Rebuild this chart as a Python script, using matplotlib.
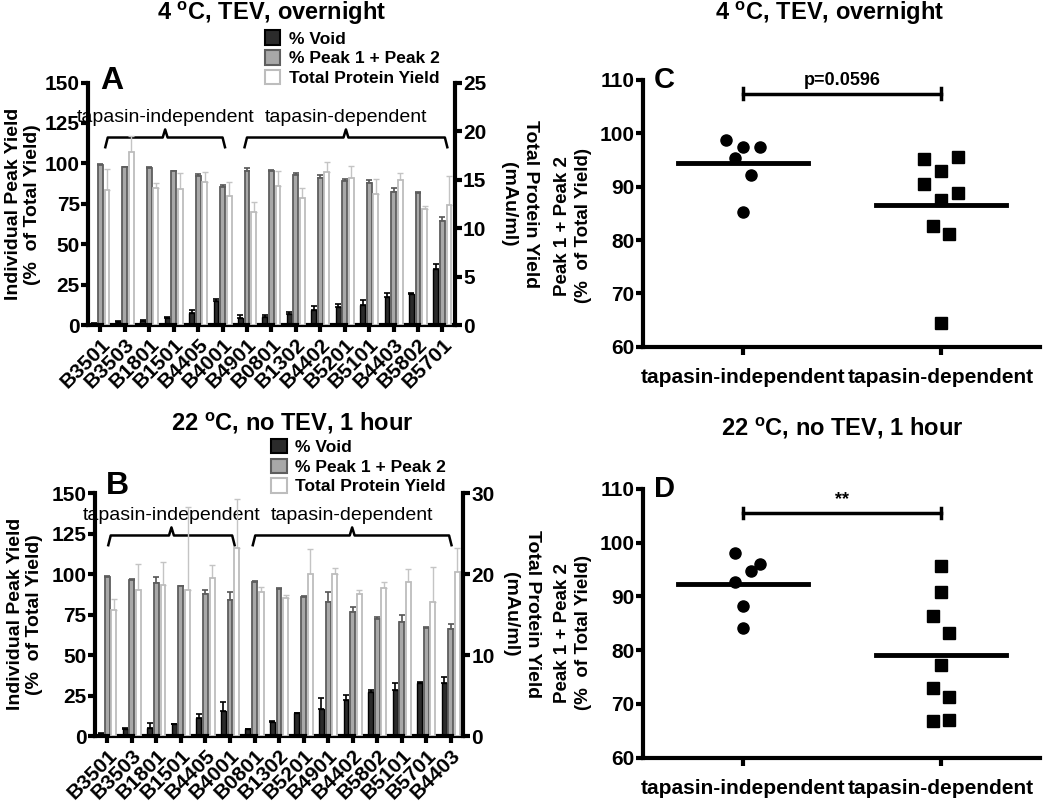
import numpy as np
import matplotlib.pyplot as plt
from matplotlib.patches import Patch

plt.rcParams['font.family'] = ['Liberation Sans', 'DejaVu Sans']
plt.rcParams['font.weight'] = 'bold'
plt.rcParams['mathtext.fontset'] = 'custom'
plt.rcParams['mathtext.rm'] = 'Liberation Sans'
plt.rcParams['mathtext.bf'] = 'Liberation Sans:bold'

# ---- panel A : 4 C, TEV, overnight ----
alleles_a = ['B3501', 'B3503', 'B1801', 'B1501', 'B4405', 'B4001', 'B4901', 'B0801',
             'B1302', 'B4402', 'B5201', 'B5101', 'B4403', 'B5802', 'B5701']
void_a = [1.0, 2.0, 2.5, 4.7, 7.6, 14.9, 4.5, 5.2, 6.8, 9.7, 11.3, 12.4, 17.5, 19.0, 35.0]
void_a_err = [0.5, 0.5, 0.8, 0.5, 2.0, 1.5, 2.0, 0.8, 1.5, 2.3, 2.0, 3.0, 2.5, 1.0, 3.0]
peak_a = [99.0, 97.6, 97.4, 95.3, 92.2, 85.6, 95.5, 95.3, 92.8, 90.8, 89.1, 87.7, 82.5, 81.5, 64.6]
peak_a_err = [0.5, 0.3, 0.5, 0.3, 1.5, 1.0, 1.5, 0.5, 1.0, 1.8, 1.0, 2.0, 2.0, 0.8, 2.0]
total_a = [13.9, 17.8, 14.1, 14.0, 14.8, 13.3, 11.7, 14.3, 13.1, 15.8, 15.2, 13.5, 15.0, 12.0, 12.4]
total_a_err = [2.2, 1.7, 0.5, 1.7, 1.0, 1.4, 1.0, 1.6, 1.0, 1.0, 1.2, 1.6, 0.7, 0.3, 3.0]

# ---- panel B : 22 C, no TEV, 1 hour ----
alleles_b = ['B3501', 'B3503', 'B1801', 'B1501', 'B4405', 'B4001', 'B0801', 'B1302',
             'B5201', 'B4901', 'B4402', 'B5802', 'B5101', 'B5701', 'B4403']
void_b = [1.6, 4.1, 5.1, 7.2, 11.5, 15.6, 4.1, 8.8, 14.0, 17.0, 22.6, 27.0, 28.8, 32.9, 33.1]
void_b_err = [0.5, 0.8, 3.1, 0.4, 2.1, 5.2, 0.3, 0.3, 0.5, 6.3, 3.1, 1.4, 4.2, 0.4, 3.5]
peak_b = [98.4, 96.3, 94.7, 92.6, 88.1, 84.0, 95.3, 91.0, 86.0, 83.0, 76.7, 72.2, 70.6, 66.9, 66.5]
peak_b_err = [0.5, 0.8, 3.7, 0.4, 2.0, 5.0, 0.3, 0.3, 0.4, 6.0, 3.0, 1.5, 4.5, 0.3, 3.0]
total_b = [15.6, 18.0, 18.7, 18.0, 19.6, 23.3, 17.8, 17.1, 20.1, 20.1, 17.6, 18.3, 19.0, 16.6, 20.3]
total_b_err = [1.3, 3.3, 2.8, 10.3, 1.5, 6.0, 0.6, 0.3, 3.0, 0.7, 0.5, 0.7, 1.6, 4.3, 2.9]

# ---- panels C / D : Peak 1 + Peak 2 per allele ----
groups = ['tapasin-independent', 'tapasin-dependent']
c_indep = [98.75, 97.5, 97.5, 95.3, 92.2, 85.2]
c_dep = [95.1, 95.6, 92.9, 90.5, 88.75, 87.5, 82.6, 81.1, 64.4]
d_indep = [98.1, 96.0, 94.8, 92.6, 88.2, 84.2]
d_dep = [95.6, 90.8, 86.3, 83.2, 77.3, 73.0, 71.3, 66.8, 67.1]
# horizontal spread of the dots (layout only)
c_indep_jit = [-0.084, 0, 0.084, -0.042, 0.042, 0]
c_dep_jit = [-0.084, 0.084, 0, -0.084, 0.084, 0, -0.042, 0.042, 0]
d_indep_jit = [-0.042, 0.084, 0.040, -0.042, 0, 0]
d_dep_jit = [0, 0, -0.042, 0.042, 0, -0.042, 0.042, -0.042, 0.042]

fig = plt.figure(figsize=(10.5, 8.01), dpi=100)

SPW = 3.0
TXT = 15


def style_axis(ax):
    for s in ['left', 'bottom', 'right']:
        ax.spines[s].set_linewidth(SPW)
    ax.spines['top'].set_visible(False)
    ax.tick_params(width=SPW, length=5, labelsize=TXT, pad=1)


def bracket(ax, x0, x1, y, drop, rise):
    mid = (x0 + x1) / 2
    xs = [x0, x0 + 0.1, mid - 0.1, mid, mid + 0.1, x1 - 0.1, x1]
    ys = [y - drop, y, y, y + rise, y, y, y - drop]
    ax.plot(xs, ys, color='black', lw=1.8, clip_on=False, solid_joinstyle='round')


def bar_panel(rect, alleles, void, void_err, peak, peak_err, total, total_err,
              rmax, title, br_y, br_ind, br_dep, leg_xy, title_xy):
    ax = fig.add_axes(rect)
    ax2 = ax.twinx()
    x = np.arange(len(alleles))
    w = 0.2
    off = 0.27
    zeros = np.zeros(len(x))
    ax.errorbar(x - off, void, yerr=[zeros, void_err], fmt='none', ecolor='black',
                elinewidth=1.2, capsize=2, capthick=1.2, zorder=1)
    ax.bar(x - off, void, w, color='#2b2b2b', edgecolor='black', lw=1, zorder=2)
    ax.errorbar(x, peak, yerr=[zeros, peak_err], fmt='none', ecolor='#555555',
                elinewidth=1.2, capsize=2, capthick=1.2, zorder=1)
    ax.bar(x, peak, w, color='#a8a8a8', edgecolor='#5e5e5e', lw=1.3, zorder=2)
    ax2.errorbar(x + off, total, yerr=[zeros, total_err], fmt='none', ecolor='#c4c4c4',
                 elinewidth=1.0, capsize=2, capthick=1.0, zorder=1)
    ax2.bar(x + off, total, w, color='white', edgecolor='#bdbdbd', lw=1.3, zorder=2)

    ax.set_ylim(0, 150)
    ax.set_yticks([0, 25, 50, 75, 100, 125, 150])
    ax2.set_ylim(0, rmax)
    ax2.set_yticks(np.arange(0, rmax + 1, 5 if rmax == 25 else 10))
    ax.set_xlim(-0.5, len(x) - 0.5)
    ax.set_xticks(x)
    ax.set_xticklabels(alleles, rotation=45, ha='right', va='top',
                       rotation_mode='anchor', fontsize=13.5)
    style_axis(ax)
    style_axis(ax2)
    ax.tick_params(axis='x', pad=2)
    ax2.spines['left'].set_visible(False)
    ax2.spines['bottom'].set_visible(False)
    ax.spines['right'].set_visible(False)

    # group brackets
    bracket(ax, br_ind[0], br_ind[1], br_y, 6, 5)
    bracket(ax, br_dep[0], br_dep[1], br_y, 6, 5)
    ax.text(np.mean(br_ind), br_y + 12.5, 'tapasin-independent', ha='center',
            va='center', fontsize=14, fontweight='normal')
    ax.text(np.mean(br_dep), br_y + 12.5, 'tapasin-dependent', ha='center',
            va='center', fontsize=14, fontweight='normal')

    handles = [Patch(facecolor='#2b2b2b', edgecolor='black', lw=1.5),
               Patch(facecolor='#a8a8a8', edgecolor='#5e5e5e', lw=1.5),
               Patch(facecolor='white', edgecolor='#bdbdbd', lw=1.5)]
    fig.legend(handles, ['% Void', '% Peak 1 + Peak 2', 'Total Protein Yield'],
               loc='upper left', bbox_to_anchor=leg_xy, frameon=False,
               fontsize=12.5, handlelength=0.9, handleheight=0.9, handletextpad=0.5,
               labelspacing=0.2, borderpad=0, borderaxespad=0)
    fig.text(title_xy[0], title_xy[1], title, ha='center', va='center', fontsize=17)
    return ax


bar_panel([0.084, 0.594, 0.349, 0.303], alleles_a, void_a, void_a_err, peak_a,
          peak_a_err, total_a, total_a_err, 25, r'4 $^{\mathrm{o}}$C, TEV, overnight',
          116, (0.2, 5.1), (5.9, 14.2), (0.252, 0.962), (0.259, 0.984))
bar_panel([0.0905, 0.081, 0.3505, 0.303], alleles_b, void_b, void_b_err, peak_b,
          peak_b_err, total_b, total_b_err, 30, r'22 $^{\mathrm{o}}$C, no TEV, 1 hour',
          124, (0.04, 5.19), (5.93, 14.03), (0.258, 0.452), (0.278, 0.472))

fig.text(0.095, 0.899, 'A', fontsize=23, ha='left', va='center')
fig.text(0.101, 0.393, 'B', fontsize=23, ha='left', va='center')
for yy, xl, xr in ((0.745, 0.0125, 0.484), (0.233, 0.0145, 0.486)):
    fig.text(xl, yy, 'Individual Peak Yield', rotation=90, ha='center', va='center', fontsize=14)
    fig.text(xl + 0.0185, yy, '(%  of Total Yield)', rotation=90, ha='center', va='center', fontsize=14)
    fig.text(xr + 0.021, yy, 'Total Protein Yield', rotation=270, ha='center', va='center', fontsize=14)
    fig.text(xr, yy, '(mAu/ml)', rotation=270, ha='center', va='center', fontsize=14)


def dot_panel(rect, indep, indep_jit, dep, dep_jit, sig_y, sig_text, letter, title,
              title_xy, ylab_y):
    ax = fig.add_axes(rect)
    ax.plot(np.array(indep_jit) + 0, indep, 'o', color='black', ms=8)
    ax.plot(np.array(dep_jit) + 1, dep, 's', color='black', ms=8)
    for i, vals in enumerate([indep, dep]):
        ax.plot([i - 0.33, i + 0.33], [np.mean(vals)] * 2, color='black', lw=3.5)
    ax.set_xlim(-0.505, 1.5)
    ax.set_ylim(60, 110)
    ax.set_yticks([60, 70, 80, 90, 100, 110])
    ax.set_xticks([0, 1])
    ax.set_xticklabels(groups, fontsize=13.5)
    ax.spines['right'].set_visible(False)
    style_axis(ax)
    ax.tick_params(axis='x', pad=9, length=6)
    # significance bar
    ax.plot([0, 1], [sig_y, sig_y], color='black', lw=2.5)
    ax.plot([0, 0], [sig_y - 1, sig_y + 1], color='black', lw=2.5)
    ax.plot([1, 1], [sig_y - 1, sig_y + 1], color='black', lw=2.5)
    ax.text(0.5, sig_y + 0.9, sig_text, ha='center', va='bottom', fontsize=13)
    ax.text(-0.45, 110, letter, fontsize=21, ha='left', va='center')
    fig.text(0.536, ylab_y, 'Peak 1 + Peak 2', rotation=90, ha='center', va='center', fontsize=13.5)
    fig.text(0.5555, ylab_y, '(%  of Total Yield)', rotation=90, ha='center', va='center', fontsize=13.5)
    fig.text(title_xy[0], title_xy[1], title, ha='center', va='center', fontsize=17)


dot_panel([0.6124, 0.567, 0.378, 0.3333], c_indep, c_indep_jit, c_dep, c_dep_jit,
          107.4, 'p=0.0596', 'C', r'4 $^{\mathrm{o}}$C, TEV, overnight', (0.790, 0.984), 0.718)
dot_panel([0.6124, 0.054, 0.378, 0.3358], d_indep, d_indep_jit, d_dep, d_dep_jit,
          105.5, '**', 'D', r'22 $^{\mathrm{o}}$C, no TEV, 1 hour', (0.802, 0.466), 0.21)

fig.savefig('out.png', dpi=100)
